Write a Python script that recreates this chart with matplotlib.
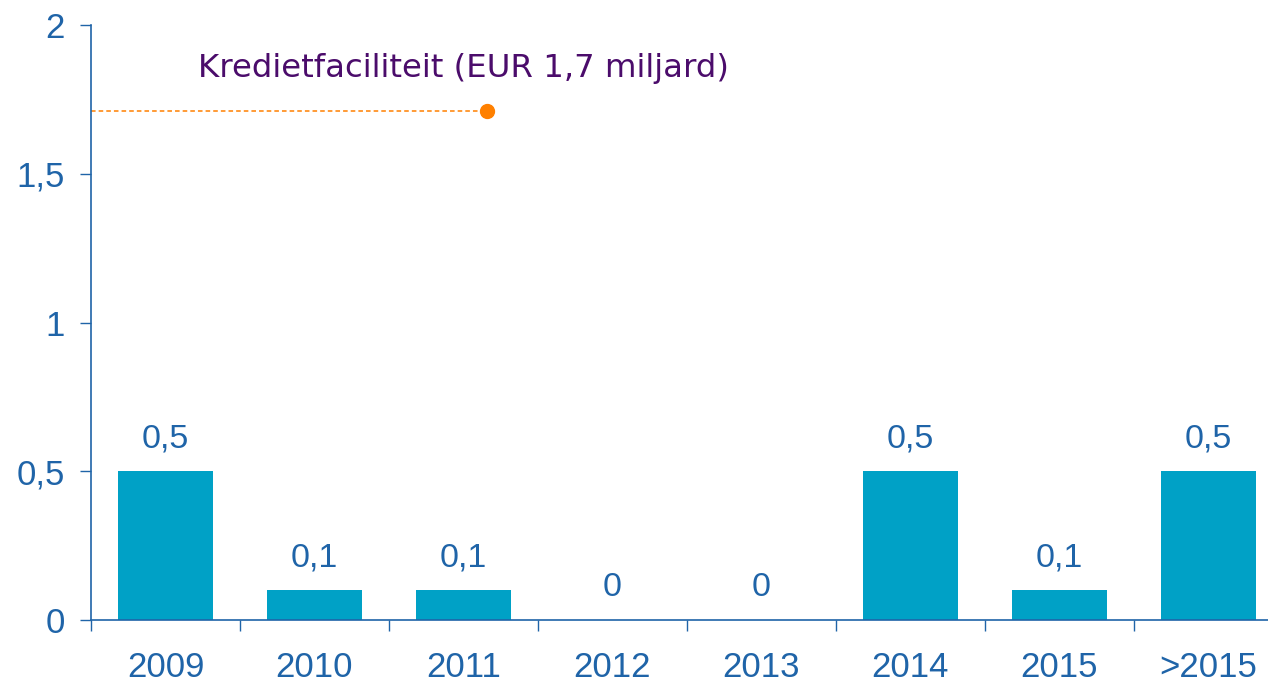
import numpy as np
import matplotlib as mpl
mpl.use('Agg')
import matplotlib.pyplot as plt

categories = ['2009', '2010', '2011', '2012', '2013', '2014', '2015', '>2015']
values = [0.5, 0.1, 0.1, 0.0, 0.0, 0.5, 0.1, 0.5]
value_labels = ['0,5', '0,1', '0,1', '0', '0', '0,5', '0,1', '0,5']
facility = 1.71
facility_label = 'Kredietfaciliteit (EUR 1,7 miljard)'
yticks = [0, 0.5, 1, 1.5, 2]
ytick_labels = ['0', '0,5', '1', '1,5', '2']

blue = '#1F64A8'
bar_col = '#00A1C6'
orange = '#FF8000'
purple = '#4B0C6B'

fig = plt.figure(figsize=(12.68, 6.88), dpi=100)
ax = fig.add_axes([91/1268, 68/688, 1 - 91/1268, 595/688])

x = np.arange(len(categories))
ax.bar(x, values, width=0.64, color=bar_col, zorder=2)
for xi, v, lab in zip(x, values, value_labels):
    ax.annotate(lab, (xi, v), xytext=(0, 12), textcoords='offset points',
                ha='center', va='bottom', fontsize=24.5, color=blue,
                family='Liberation Sans')

# credit facility marker
ax.plot([-0.5, 2.16], [facility, facility], ls=(0, (3, 2)), lw=1.1,
        color=orange, clip_on=False)
ax.plot([2.16], [facility], 'o', ms=10, color=orange)
ax.text(0.22, 1.855, facility_label, color=purple, fontsize=23.3,
        family='DejaVu Sans', va='center', ha='left')

ax.set_xlim(-0.5, 7.4)
ax.set_ylim(0, 2)
ax.set_xticks(x)
ax.set_xticklabels(categories)
ax.set_xticks(np.arange(-0.5, 7.5, 1), minor=True)
ax.tick_params(axis='x', which='major', length=0, pad=22, labelsize=25,
               labelcolor=blue)
ax.tick_params(axis='x', which='minor', length=8, width=1, color=blue,
               direction='out')
ax.set_yticks(yticks)
ax.set_yticklabels(ytick_labels)
ax.tick_params(axis='y', length=8, width=1, color=blue, labelsize=25,
               labelcolor=blue, pad=11)
for lab in ax.get_xticklabels() + ax.get_yticklabels():
    lab.set_family('Liberation Sans')

for s in ['top', 'right']:
    ax.spines[s].set_visible(False)
for s in ['left', 'bottom']:
    ax.spines[s].set_color(blue)
    ax.spines[s].set_linewidth(1.2)

fig.savefig('out.png', dpi=100)
